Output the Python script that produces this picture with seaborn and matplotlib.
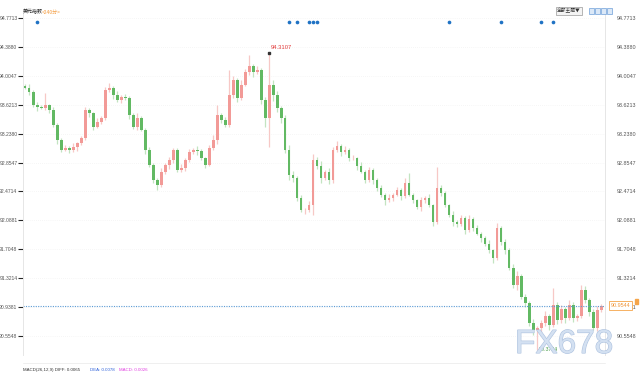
import matplotlib
matplotlib.use('Agg')
import matplotlib.pyplot as plt
import matplotlib.transforms as mtrans
import matplotlib.patheffects as pe
from matplotlib.patches import Rectangle
import numpy as np
import pandas as pd
import seaborn as sns

# ── data ─────────────────────────────────────────────────────
first_open = 93.870
closes = [
    93.843, 93.790, 93.617, 93.591, 93.578, 93.617, 93.551, 93.352, 93.153, 93.021,
    93.047, 93.021, 93.060, 93.113, 93.178, 93.551, 93.511, 93.326, 93.392, 93.445,
    93.816, 93.843, 93.750, 93.684, 93.724, 93.710, 93.485, 93.326, 93.445, 93.286,
    93.021, 92.822, 92.623, 92.556, 92.729, 92.822, 92.888, 93.021, 92.755, 92.782,
    92.888, 92.994, 93.021, 93.007, 92.914, 92.822, 93.047, 93.153, 93.485, 93.418,
    93.352, 93.750, 93.949, 93.710, 93.883, 94.055, 94.135, 94.055, 94.082, 93.684,
    93.445, 93.883, 93.750, 93.578, 93.445, 93.021, 92.689, 92.649, 92.384, 92.225,
    92.225, 92.291, 92.888, 92.808, 92.649, 92.729, 92.623, 93.021, 93.074, 92.994,
    93.021, 92.914, 92.914, 92.808, 92.729, 92.623, 92.755, 92.623, 92.517, 92.424,
    92.357, 92.384, 92.424, 92.490, 92.410, 92.583, 92.424, 92.357, 92.265, 92.357,
    92.384, 92.291, 92.066, 92.517, 92.450, 92.291, 92.159, 92.066, 92.039, 92.119,
    91.960, 92.105, 91.986, 91.907, 91.854, 91.775, 91.694, 91.588, 91.986, 91.801,
    91.694, 91.454, 91.230, 91.350, 91.073, 90.993, 90.728, 90.633, 90.660, 90.728,
    90.819, 90.699, 90.965, 90.766, 90.912, 90.792, 90.965, 90.792, 90.819, 91.164,
    91.031, 90.872, 90.660, 90.898, 90.9544,
]
wick_up = [
    0.03, 0.05, 0.02, 0.04, 0.03, 0.16, 0.02, 0.04, 0.03, 0.02,
    0.04, 0.03, 0.05, 0.02, 0.03, 0.04, 0.03, 0.02, 0.05, 0.03,
    0.04, 0.06, 0.03, 0.05, 0.02, 0.04, 0.03, 0.02, 0.06, 0.03,
    0.02, 0.04, 0.03, 0.02, 0.05, 0.03, 0.04, 0.02, 0.03, 0.05,
    0.03, 0.04, 0.02, 0.05, 0.03, 0.02, 0.04, 0.06, 0.13, 0.03,
    0.04, 0.33, 0.05, 0.03, 0.06, 0.04, 0.15, 0.03, 0.05, 0.02,
    0.04, 0.4277, 0.06, 0.05, 0.03, 0.04, 0.07, 0.05, 0.03, 0.04,
    0.02, 0.05, 0.08, 0.04, 0.06, 0.03, 0.05, 0.04, 0.06, 0.03,
    0.05, 0.03, 0.04, 0.02, 0.05, 0.03, 0.04, 0.03, 0.02, 0.04,
    0.03, 0.05, 0.02, 0.04, 0.03, 0.06, 0.13, 0.03, 0.02, 0.04,
    0.03, 0.05, 0.02, 0.28, 0.04, 0.03, 0.02, 0.05, 0.03, 0.04,
    0.02, 0.05, 0.03, 0.04, 0.02, 0.03, 0.05, 0.02, 0.06, 0.03,
    0.04, 0.03, 0.05, 0.06, 0.03, 0.04, 0.02, 0.05, 0.03, 0.04,
    0.06, 0.03, 0.23, 0.04, 0.05, 0.03, 0.06, 0.04, 0.03, 0.07,
    0.05, 0.03, 0.04, 0.06, 0.03,
]
wick_dn = [
    0.02, 0.04, 0.03, 0.05, 0.02, 0.03, 0.04, 0.02, 0.05, 0.03,
    0.02, 0.04, 0.03, 0.05, 0.02, 0.03, 0.05, 0.04, 0.02, 0.03,
    0.03, 0.02, 0.05, 0.03, 0.04, 0.02, 0.06, 0.03, 0.04, 0.02,
    0.05, 0.03, 0.04, 0.06, 0.02, 0.03, 0.05, 0.04, 0.03, 0.02,
    0.04, 0.03, 0.02, 0.05, 0.03, 0.04, 0.02, 0.03, 0.05, 0.04,
    0.03, 0.02, 0.04, 0.05, 0.03, 0.02, 0.04, 0.06, 0.03, 0.05,
    0.12, 0.385, 0.08, 0.05, 0.07, 0.04, 0.06, 0.05, 0.04, 0.03,
    0.05, 0.03, 0.13, 0.04, 0.06, 0.03, 0.05, 0.04, 0.03, 0.05,
    0.02, 0.04, 0.03, 0.05, 0.02, 0.04, 0.03, 0.05, 0.04, 0.03,
    0.07, 0.03, 0.04, 0.02, 0.05, 0.03, 0.02, 0.04, 0.03, 0.05,
    0.04, 0.02, 0.05, 0.03, 0.04, 0.02, 0.03, 0.05, 0.04, 0.02,
    0.05, 0.03, 0.04, 0.02, 0.05, 0.03, 0.04, 0.06, 0.03, 0.04,
    0.05, 0.03, 0.04, 0.06, 0.03, 0.05, 0.04, 0.07, 0.2606, 0.05,
    0.04, 0.06, 0.03, 0.05, 0.04, 0.06, 0.03, 0.05, 0.04, 0.03,
    0.04, 0.05, 0.03, 0.04, 0.02,
]
event_idx = [3, 66, 68, 71, 72, 73, 106, 119, 129, 132]
y_ticks = [94.7713, 94.3880, 94.0047, 93.6213, 93.2380, 92.8547,
           92.4714, 92.0881, 91.7048, 91.3214, 90.9381, 90.5548]
last_price = 90.9544
max_label, min_label = '94.3107', '90.3724'
title_name, title_period = '美元指数', '<240分>'
macd_parts = ['MACD(26,12,9) DIFF: 0.0065', 'DEA: 0.0078', 'MACD: 0.0026']

df = pd.DataFrame({'close': closes, 'up': wick_up, 'dn': wick_dn})
df['open'] = df['close'].shift(1).fillna(first_open)
df['top'] = df[['open', 'close']].max(axis=1)
df['bot'] = df[['open', 'close']].min(axis=1)
df['high'] = df['top'] + df['up']
df['low'] = df['bot'] - df['dn']
df['rise'] = df['close'] >= df['open']
df['x'] = np.arange(len(df))

# ── figure ───────────────────────────────────────────────────
sns.set_style('white')
plt.rcParams['font.family'] = ['Liberation Sans', 'Noto Sans CJK SC', 'DejaVu Sans']

W, H = 640, 376
fig = plt.figure(figsize=(6.4, 3.76), dpi=100)
fig.patch.set_facecolor('white')
ax = fig.add_axes([23 / W, 1 - 355 / H, 582 / W, 345 / H])
ax.set_facecolor('white')

ax.set_xlim(-0.6, 144.9)
ax.set_ylim(90.302, 94.877)

for t in y_ticks:
    ax.axhline(t, color='#eeeeee', lw=0.5, ls=(0, (1, 2)), zorder=0)

up_body, up_wick = '#f29a97', '#f7c8c6'
dn_body, dn_wick = '#62b963', '#c3e4c1'
for rise, g in df.groupby('rise'):
    ax.vlines(g['x'], g['low'], g['high'],
              color=up_wick if rise else dn_wick, lw=0.9, zorder=2)
    ax.bar(g['x'], (g['top'] - g['bot']).clip(lower=0.006), bottom=g['bot'],
           width=0.55, color=up_body if rise else dn_body, linewidth=0,
           zorder=3)

# current price line
ax.axhline(last_price, color='#5b9bd5', lw=0.8, ls=(0, (1, 1.2)), zorder=4)

# event dots along the top
btrans = mtrans.blended_transform_factory(ax.transData, ax.transAxes)
ax.scatter(event_idx, [0.965] * len(event_idx), s=7, color='#1f72c4',
           transform=btrans, zorder=5, linewidths=0)

# max / min labels
imax = df['high'].idxmax()
ax.plot([imax], [df.loc[imax, 'high']], marker='s', ms=1.5, color='#333333',
        zorder=6)
ax.text(imax + 0.4, df.loc[imax, 'high'] + 0.03, max_label, fontsize=4.2,
        color='#e23b3b', va='bottom', ha='left')
imin = df['low'].idxmin()
ax.text(imin + 0.4, df.loc[imin, 'low'], min_label, fontsize=3.8,
        color='#4d9f4d', va='center', ha='left')

# axes styling
ax.set_xticks([])
ax.set_yticks(y_ticks)
ax.set_yticklabels([f'{t:.4f}' for t in y_ticks])
ax.tick_params(axis='y', left=False, right=False, labelsize=3.6,
               labelcolor='#555555', pad=0.5)
ax2 = ax.twinx()
ax2.set_ylim(ax.get_ylim())
ax2.set_yticks(y_ticks)
ax2.set_yticklabels([f'{t:.4f}' for t in y_ticks])
ax2.tick_params(axis='y', left=False, right=False, labelsize=3.9,
                labelcolor='#555555', pad=5.0)
for a in (ax, ax2):
    for s in ('top', 'bottom'):
        a.spines[s].set_visible(False)
    a.spines['left'].set_color('#e6e6e6')
    a.spines['right'].set_color('#e6e6e6')
    a.spines['left'].set_linewidth(0.6)
    a.spines['right'].set_linewidth(0.6)

# last price tag on right axis
ax2.text(1.0 + 5.5 / 582, last_price, f'{last_price:.4f}',
         transform=mtrans.blended_transform_factory(ax2.transAxes, ax2.transData),
         fontsize=3.9, color='#f0963a', va='center', ha='left', zorder=10,
         bbox=dict(boxstyle='square,pad=0.35', fc='white', ec='#f5a54a', lw=0.6))
fig.patches.append(Rectangle((635 / W, 1 - 304 / H), 3 / W, 5 / H,
                             transform=fig.transFigure, color='#f5a54a'))

# title
fig.text(23 / W, 1 - 12 / H, title_name, fontsize=3.6, color='#222222',
         family=['Noto Sans CJK SC'], va='center')
fig.text(42 / W, 1 - 12 / H, title_period, fontsize=3.6, color='#f39a3c',
         family=['Noto Sans CJK SC', 'DejaVu Sans'], va='center')

# top-right controls
fig.text(557 / W, 1 - 11 / H, '全部主题▼', fontsize=3.4, color='#333333',
         family=['Noto Sans CJK SC', 'DejaVu Sans'], va='center',
         bbox=dict(boxstyle='square,pad=0.3', fc='#f4f4f4', ec='#999999', lw=0.5))
for i in range(4):
    fig.patches.append(Rectangle(((589 + 6 * i) / W, 1 - 14 / H), 5 / W, 6 / H,
                                 transform=fig.transFigure, fc='#dbe8f7',
                                 ec='#6f9fd8', lw=0.5))

# watermark
fig.text(515 / W, 1 - 353 / H, 'FX678', fontsize=24, color='#d4e1f2',
         family=['Liberation Sans'], va='baseline', alpha=0.9,
         path_effects=[pe.withStroke(linewidth=0.8, foreground='#a7bddc')])

# lower panel separator and MACD caption
fig.add_artist(plt.Line2D([23 / W, 605 / W], [1 - 363 / H, 1 - 363 / H],
                          color='#ececec', lw=0.6))
fig.text(23 / W, 1 - 370 / H, macd_parts[0], fontsize=3.2, color='#333333', va='center')
fig.text(90 / W, 1 - 370 / H, macd_parts[1], fontsize=3.2, color='#2b5fd9', va='center')
fig.text(119 / W, 1 - 370 / H, macd_parts[2], fontsize=3.2, color='#e040e0', va='center')

fig.savefig('out.png', dpi=100, facecolor='white')
